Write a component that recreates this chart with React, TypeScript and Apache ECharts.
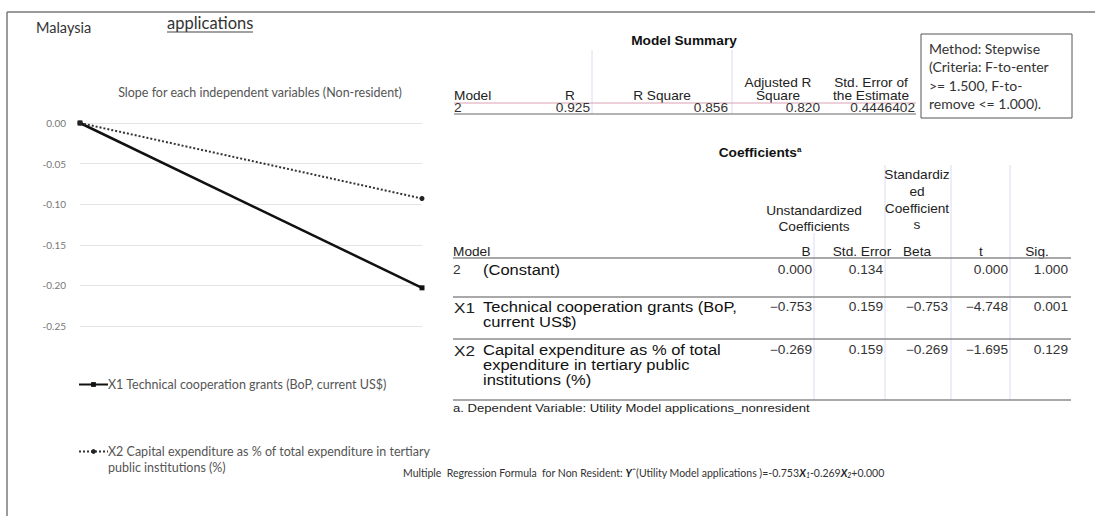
import React, { useEffect, useRef } from "react";
import * as echarts from "echarts";

// ---------- data ----------
const xPoints = ["start", "end"];
const x1Name = "X1 Technical cooperation grants (BoP, current US$)";
const x2Name = "X2 Capital expenditure as % of total expenditure in tertiary public institutions (%)";
const x2NameLine1 = "X2 Capital expenditure as % of total expenditure in tertiary";
const x2NameLine2 = "public institutions (%)";
const x1Slope = [0, -0.203];
const x2Slope = [0, -0.093];
const yMin = -0.25;
const yMax = 0;
const yStep = 0.05;

const summaryRow = ["2", "0.925", "0.856", "0.820", "0.4446402"];
const methodLines = ["Method: Stepwise", "(Criteria: F-to-enter", ">= 1.500, F-to-", "remove <= 1.000)."];

const coefCodes = ["", "X1", "X2"];
const coefLabels = [
  ["(Constant)"],
  ["Technical cooperation grants (BoP,", "current US$)"],
  ["Capital expenditure as % of total", "expenditure in tertiary public", "institutions (%)"],
];
const coefB = ["0.000", "\u22120.753", "\u22120.269"];
const coefSE = ["0.134", "0.159", "0.159"];
const coefBeta = ["", "\u22120.753", "\u22120.269"];
const coefT = ["0.000", "\u22124.748", "\u22121.695"];
const coefSig = ["1.000", "0.001", "0.129"];

// ---------- styles ----------
const CAL = "Lato, 'Open Sans', sans-serif";
const ARI = "'Liberation Sans', Arial, sans-serif";
const SX = 1.14;

function txt(text: string, x: number, y: number, opts: any = {}) {
  return {
    type: "text",
    silent: true,
    x,
    y,
    scaleX: opts.sx ?? 1,
    style: {
      text,
      x: 0,
      y: 0,
      fill: opts.fill || "#222",
      font: opts.font || `12px ${ARI}`,
      textAlign: opts.align || "left",
      textVerticalAlign: "middle",
      ...(opts.rich ? { rich: opts.rich } : {}),
    },
  };
}
const tt = (text: string, x: number, y: number, opts: any = {}) => txt(text, x, y, { sx: SX, ...opts });
function hline(x1: number, x2: number, y: number, stroke = "#8c8c8c", w = 1.5) {
  return { type: "line", silent: true, shape: { x1, y1: y, x2, y2: y }, style: { stroke, lineWidth: w } };
}
function vline(x: number, y1: number, y2: number, stroke = "#dcdcf6", w = 1) {
  return { type: "line", silent: true, shape: { x1: x, y1, x2: x, y2 }, style: { stroke, lineWidth: w } };
}

function buildGraphics() {
  const g: any[] = [];
  // page frame
  g.push(hline(7, 1095, 12, "#7a7a7a", 1.5));
  g.push(vline(7, 12, 516, "#7a7a7a", 1.5));
  // headings
  g.push(txt("Malaysia", 36, 27, { font: `14.5px ${CAL}`, fill: "#333" }));
  g.push(txt("applications", 167, 23, { font: `16.5px ${CAL}`, fill: "#333" }));
  g.push(hline(167, 253, 32, "#444", 1));
  g.push(txt("Slope for each independent variables (Non-resident)", 260, 92, { font: `12.5px ${CAL}`, fill: "#555", align: "center" }));
  // second line of the X2 legend entry
  g.push(txt(x2NameLine2, 108, 467, { font: `12.5px ${CAL}`, fill: "#555" }));

  // ---- Model Summary ----
  g.push(tt("Model Summary", 684, 41, { font: `bold 12px ${ARI}`, fill: "#111", align: "center" }));
  g.push(vline(592, 50, 114));
  g.push(vline(732, 50, 114));
  g.push(tt("Model", 454, 96));
  g.push(tt("R", 570, 96, { align: "center" }));
  g.push(tt("R Square", 662, 96, { align: "center" }));
  g.push(tt("Adjusted R", 778, 83, { align: "center" }));
  g.push(tt("Square", 778, 96, { align: "center" }));
  g.push(tt("Std. Error of", 871, 83, { align: "center" }));
  g.push(tt("the Estimate", 871, 96, { align: "center" }));
  g.push(hline(454, 916, 103, "#d9a0b4", 1));
  const sumRight = [0, 590, 728, 820, 915];
  summaryRow.forEach((v, i) => {
    if (i === 0) g.push(tt(v, 454, 108, { fill: "#333" }));
    else g.push(tt(v, sumRight[i], 108, { align: "right", fill: "#333" }));
  });
  g.push(hline(454, 916, 114, "#9a9a9a", 1.5));

  // method box
  g.push({ type: "rect", silent: true, shape: { x: 921, y: 34, width: 151, height: 84 }, style: { fill: "#fff", stroke: "#555", lineWidth: 1 } });
  methodLines.forEach((l, i) => g.push(txt(l, 929, 48 + i * 18.5, { font: `14px ${CAL}`, fill: "#333" })));

  // ---- Coefficients ----
  g.push({
    type: "text",
    silent: true,
    x: 760,
    y: 153,
    scaleX: SX,
    style: {
      text: "{t|Coefficients}{s|a}",
      x: 0,
      y: 0,
      textAlign: "center",
      textVerticalAlign: "middle",
      rich: {
        t: { font: `bold 12px ${ARI}`, fill: "#111" },
        s: { font: `bold 7px ${ARI}`, fill: "#111", padding: [0, 0, 6, 0] },
      },
    },
  });
  g.push(vline(814, 233, 400));
  g.push(vline(885, 165, 400));
  g.push(vline(951, 165, 400));
  g.push(vline(1010, 165, 400));
  ["Standardiz", "ed", "Coefficient", "s"].forEach((l, i) => g.push(tt(l, 917, 175 + i * 16.7, { align: "center" })));
  g.push(tt("Unstandardized", 814, 211, { align: "center" }));
  g.push(tt("Coefficients", 814, 227, { align: "center" }));
  g.push(tt("Model", 453, 252));
  g.push(tt("B", 806, 252, { align: "center" }));
  g.push(tt("Std. Error", 862, 252, { align: "center" }));
  g.push(tt("Beta", 917, 252, { align: "center" }));
  g.push(tt("t", 981, 252, { align: "center" }));
  g.push(tt("Sig.", 1037, 252, { align: "center" }));
  g.push(hline(453, 1071, 258));

  const rowY = [270, 307, 350];
  const rowLines = [297, 339, 400];
  coefLabels.forEach((lines, r) => {
    const y = rowY[r];
    if (r === 0) g.push(tt("2", 453, y, { fill: "#333" }));
    else g.push(tt(coefCodes[r], 454, y, { font: `15px ${ARI}`, fill: "#222" }));
    lines.forEach((l, k) => g.push(tt(l, 483, y + k * 15, { font: `14.5px ${ARI}`, fill: "#111" })));
    g.push(tt(coefB[r], 812, y, { align: "right", fill: "#333" }));
    g.push(tt(coefSE[r], 883, y, { align: "right", fill: "#333" }));
    if (coefBeta[r]) g.push(tt(coefBeta[r], 948, y, { align: "right", fill: "#333" }));
    g.push(tt(coefT[r], 1008, y, { align: "right", fill: "#333" }));
    g.push(tt(coefSig[r], 1068, y, { align: "right", fill: "#333" }));
    g.push(hline(453, 1071, rowLines[r]));
  });
  g.push(tt("a. Dependent Variable: Utility Model applications_nonresident", 453, 408, { font: `11.5px ${ARI}`, fill: "#222" }));

  // formula
  g.push({
    type: "text",
    silent: true,
    style: {
      text:
        "{n|Multiple  Regression Formula  for Non Resident: }{b|Y}{n|\u02c6(Utility Model applications )=-0.753}{b|X}{sub|1}{n|-0.269}{b|X}{sub|2}{n|+0.000}",
      x: 403,
      y: 473,
      textVerticalAlign: "middle",
      rich: {
        n: { font: `10.5px ${CAL}`, fill: "#333" },
        b: { font: `italic bold 10.5px ${CAL}`, fill: "#222" },
        sub: { font: `italic 7px ${CAL}`, fill: "#222", padding: [4, 0, 0, 0] },
      },
    },
  });
  return g;
}

export default function App() {
  const ref = useRef<HTMLDivElement>(null);
  useEffect(() => {
    if (!ref.current) return;
    const chart = echarts.init(ref.current, null, { renderer: "svg" });
    chart.setOption({
      animation: false,
      backgroundColor: "#fff",
      grid: { left: 80, top: 123, width: 342, height: 203, containLabel: false },
      xAxis: { type: "category", data: xPoints, boundaryGap: false, show: false },
      yAxis: {
        type: "value",
        min: yMin,
        max: yMax,
        interval: yStep,
        axisLine: { show: false },
        axisTick: { show: false },
        axisLabel: { formatter: (v: number) => v.toFixed(2), fontSize: 10, color: "#777", fontFamily: CAL, margin: 14 },
        splitLine: { lineStyle: { color: "#e4e4e4", width: 1 } },
      },
      legend: [
        {
          data: [x1Name],
          left: 73,
          top: 373,
          itemWidth: 29,
          itemHeight: 6,
          textStyle: { fontSize: 12.5, color: "#555", fontFamily: CAL, padding: [0, 0, 0, -5] },
        },
        {
          data: [x2Name],
          left: 73,
          top: 440,
          itemWidth: 29,
          itemHeight: 6,
          textStyle: { fontSize: 12.5, color: "#555", fontFamily: CAL, padding: [0, 0, 0, -5] },
          formatter: () => x2NameLine1,
        },
      ],
      series: [
        {
          name: x1Name,
          type: "line",
          data: x1Slope,
          symbol: "rect",
          symbolSize: 5,
          lineStyle: { color: "#111", width: 2.5, type: "solid" },
          itemStyle: { color: "#111" },
        },
        {
          name: x2Name,
          type: "line",
          data: x2Slope,
          symbol: "circle",
          symbolSize: 5,
          lineStyle: { color: "#333", width: 2, type: "dotted" },
          itemStyle: { color: "#222" },
        },
      ],
      graphic: buildGraphics(),
    });
    return () => chart.dispose();
  }, []);
  return (
    <div
      ref={ref}
      style={{ position: "absolute", left: 0, top: 0, width: 1095, height: 516, background: "#fff" }}
    />
  );
}
